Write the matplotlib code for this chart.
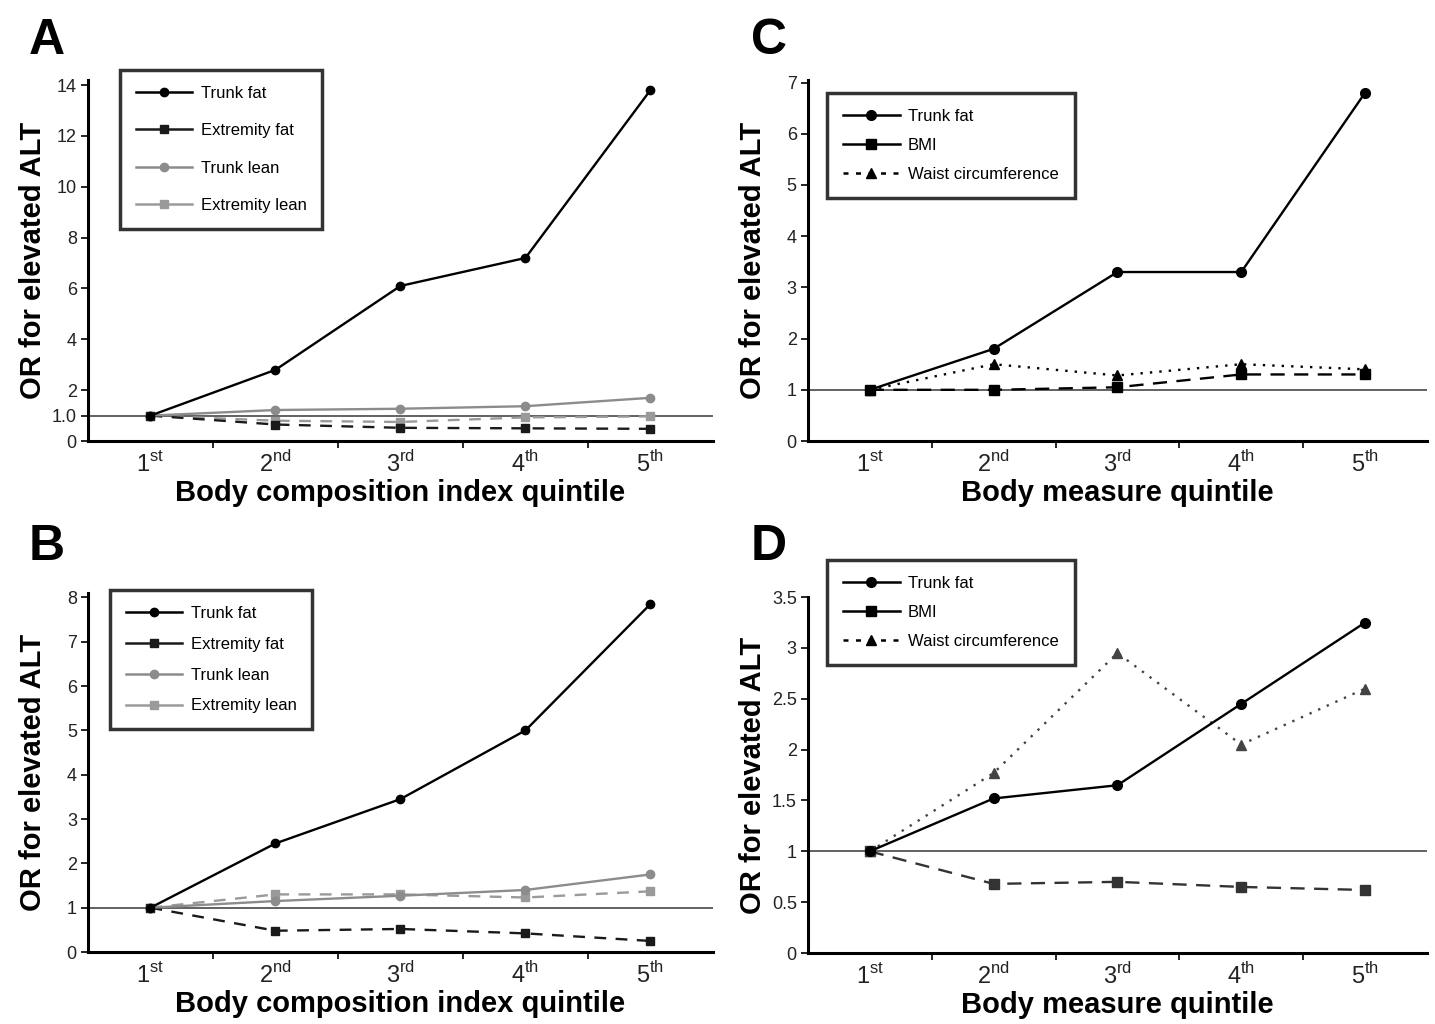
import matplotlib
matplotlib.use("Agg")
import matplotlib.pyplot as plt
from matplotlib.lines import Line2D

plt.rcParams["font.family"] = ["Liberation Sans", "DejaVu Sans"]
plt.rcParams["mathtext.fontset"] = "custom"
plt.rcParams["mathtext.rm"] = "Liberation Sans"

QUINTILES = ["1$^{\\mathrm{st}}$", "2$^{\\mathrm{nd}}$", "3$^{\\mathrm{rd}}$",
             "4$^{\\mathrm{th}}$", "5$^{\\mathrm{th}}$"]
X = [1, 2, 3, 4, 5]

# panel A: body composition index
a_trunk_fat = [1.0, 2.8, 6.1, 7.2, 13.8]
a_extremity_fat = [1.0, 0.65, 0.52, 0.5, 0.48]
a_trunk_lean = [1.0, 1.22, 1.27, 1.37, 1.7]
a_extremity_lean = [1.0, 0.8, 0.75, 0.93, 0.97]

# panel B
b_trunk_fat = [1.0, 2.45, 3.45, 5.0, 7.85]
b_extremity_fat = [1.0, 0.48, 0.52, 0.42, 0.25]
b_trunk_lean = [1.0, 1.15, 1.27, 1.4, 1.75]
b_extremity_lean = [1.0, 1.3, 1.3, 1.23, 1.37]

# panel C: body measures
c_trunk_fat = [1.0, 1.8, 3.3, 3.3, 6.8]
c_bmi = [1.0, 1.0, 1.05, 1.3, 1.3]
c_waist = [1.0, 1.5, 1.28, 1.5, 1.4]

# panel D
d_trunk_fat = [1.0, 1.52, 1.65, 2.45, 3.25]
d_bmi = [1.0, 0.68, 0.7, 0.65, 0.62]
d_waist = [1.0, 1.77, 2.95, 2.05, 2.6]

YLABEL = "OR for elevated ALT"
DASH = (0, (5, 4))
DOT = (0, (1, 3))


def style_axes(ax, ylim, yticks, yticklabels, xlabel):
    ax.axhline(1.0, color="#555555", lw=1.3, zorder=1)
    ax.set_xlim(0.5, 5.5)
    ax.set_ylim(*ylim)
    ax.set_yticks(yticks)
    ax.set_yticklabels(yticklabels, fontsize=13, color="#222222")
    ax.set_xticks(X)
    ax.set_xticklabels(QUINTILES, fontsize=17, color="#222222")
    ax.set_xticks([1.5, 2.5, 3.5, 4.5], minor=True)
    ax.tick_params(axis="x", which="major", length=0, pad=7)
    ax.tick_params(axis="x", which="minor", length=5, width=1.2)
    ax.tick_params(axis="y", length=5, width=1.2, pad=3)
    for side in ["top", "right"]:
        ax.spines[side].set_visible(False)
    for side in ["left", "bottom"]:
        ax.spines[side].set_linewidth(2.2)
    ax.set_xlabel(xlabel, fontsize=21, fontweight="bold", labelpad=2)
    ax.set_ylabel(YLABEL, fontsize=21, fontweight="bold")
    ax.yaxis.set_label_coords(-0.066, 0.5)


def add_legend(ax, handles, anchor, spacing):
    leg = ax.legend(handles=handles, loc="upper left", bbox_to_anchor=anchor,
                    fontsize=12, frameon=True, fancybox=False, handlelength=3.4,
                    labelspacing=spacing, borderpad=0.95, handletextpad=0.5,
                    borderaxespad=0)
    leg.get_frame().set_edgecolor("black")
    leg.get_frame().set_linewidth(2.5)


def proxy(color, marker, label, ls="-", ms=6):
    return Line2D([], [], color=color, lw=1.8, ls=ls, marker=marker, ms=ms, label=label)


fig = plt.figure(figsize=(14.35, 10.24), dpi=100)
ax_a = fig.add_axes([0.0613, 0.5693, 0.4355, 0.3526])
ax_b = fig.add_axes([0.0613, 0.0703, 0.4355, 0.3506])
ax_c = fig.add_axes([0.563, 0.5693, 0.4314, 0.3526])
ax_d = fig.add_axes([0.563, 0.0693, 0.4314, 0.3476])

comp_handles = [proxy("black", "o", "Trunk fat"),
                proxy("#1a1a1a", "s", "Extremity fat"),
                proxy("#8c8c8c", "o", "Trunk lean"),
                proxy("#9a9a9a", "s", "Extremity lean")]

for ax, tf, ef, tl, el in [(ax_a, a_trunk_fat, a_extremity_fat, a_trunk_lean, a_extremity_lean),
                           (ax_b, b_trunk_fat, b_extremity_fat, b_trunk_lean, b_extremity_lean)]:
    ax.plot(X, tf, color="black", lw=1.7, marker="o", ms=6, zorder=4)
    ax.plot(X, ef, color="#1a1a1a", lw=1.7, ls=DASH, marker="s", ms=6, zorder=3)
    ax.plot(X, tl, color="#8c8c8c", lw=1.7, marker="o", ms=6, zorder=3)
    ax.plot(X, el, color="#9a9a9a", lw=1.7, ls=DASH, marker="s", ms=6, zorder=2)

style_axes(ax_a, (0, 14.2), [0, 1, 2, 4, 6, 8, 10, 12, 14],
           ["0", "1.0", "2", "4", "6", "8", "10", "12", "14"],
           "Body composition index quintile")
style_axes(ax_b, (0, 8.1), list(range(9)), [str(v) for v in range(9)],
           "Body composition index quintile")

for ax, tf, bmi, waist, bcol, wcol in [(ax_c, c_trunk_fat, c_bmi, c_waist, "black", "black"),
                                       (ax_d, d_trunk_fat, d_bmi, d_waist, "#333333", "#444444")]:
    ax.plot(X, tf, color="black", lw=1.7, marker="o", ms=7, zorder=4)
    ax.plot(X, bmi, color=bcol, lw=1.7, ls=(0, (6, 4)), marker="s", ms=7, zorder=3)
    ax.plot(X, waist, color=wcol, lw=1.7, ls=DOT, marker="^", ms=7, zorder=3)

measure_handles = [proxy("black", "o", "Trunk fat", ms=7),
                   proxy("black", "s", "BMI", ms=7),
                   proxy("black", "^", "Waist circumference", ls=(0, (2, 3)), ms=7)]

style_axes(ax_c, (0, 7.05), list(range(8)), [str(v) for v in range(8)],
           "Body measure quintile")
style_axes(ax_d, (0, 3.5), [0, 0.5, 1, 1.5, 2, 2.5, 3, 3.5],
           ["0", "0.5", "1", "1.5", "2", "2.5", "3", "3.5"],
           "Body measure quintile")

add_legend(ax_a, comp_handles, (0.051, 1.028), 1.35)
add_legend(ax_b, comp_handles, (0.035, 1.008), 0.95)
add_legend(ax_c, measure_handles, (0.031, 0.964), 0.85)
add_legend(ax_d, measure_handles, (0.031, 1.104), 0.85)

for letter, x, y in [("A", 0.02, 0.96), ("B", 0.02, 0.466),
                     ("C", 0.523, 0.96), ("D", 0.523, 0.466)]:
    fig.text(x, y, letter, fontsize=36, fontweight="bold", va="center", ha="left")

fig.savefig("out.png", dpi=100)
